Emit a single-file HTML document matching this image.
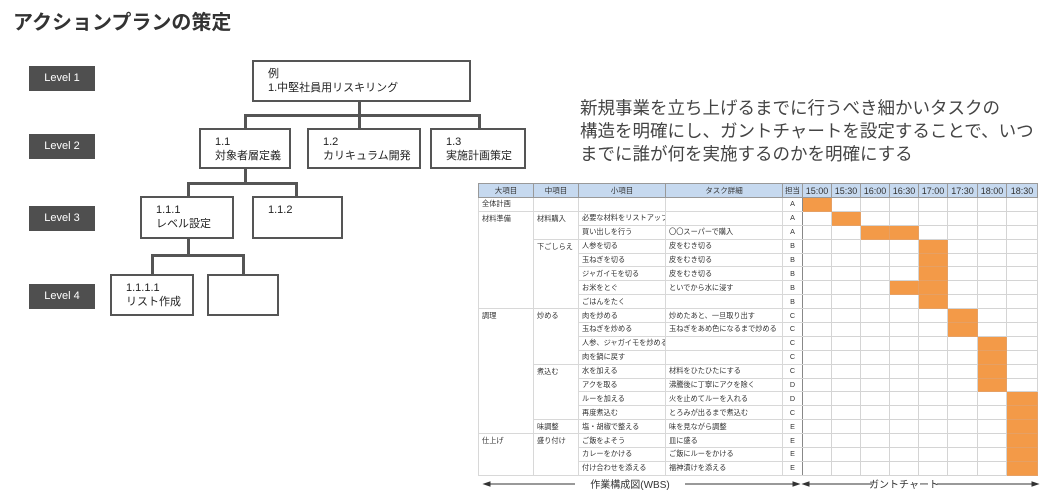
<!DOCTYPE html>
<html><head><meta charset="utf-8"><style>
body{margin:0;width:1043px;height:497px;background:#fff;position:relative;overflow:hidden;font-family:"Liberation Sans","Noto Sans CJK JP",sans-serif;color:#333}
.a{position:absolute}
.lv{position:absolute;left:29px;width:66px;height:25px;background:#4f4f4f;color:#fff;font-size:11px;line-height:25px;text-align:center}
.bx{position:absolute;border:2.5px solid #555;box-sizing:border-box;background:#fff;font-size:11px;line-height:14px;padding:5px 0 0 14px;color:#222}
.ln{position:absolute;background:#555}
table{position:absolute;left:478px;top:183px;width:559px;border-collapse:collapse;table-layout:fixed;font-size:7.2px;color:#333;border:1px solid #888}
td{border:1px solid #d8d8d8;height:13.9px;padding:0 0 0 3px;white-space:nowrap;overflow:hidden;line-height:12px;box-sizing:border-box}
th{background:#c6d9ef;border:1px solid #999;height:14px;font-weight:normal;font-size:7.5px;padding:0;box-sizing:border-box}
th.t{font-size:9px}
td.v{vertical-align:top;padding-top:1px}
td.c{text-align:center;padding:0;border-right:1px solid #888}
td.g{padding:0;border-color:#d4d4d4}
td.o{background:#f39a48;border-color:#e6a064}
</style></head><body>
<div class="a" style="left:13px;top:6px;font-size:20px;font-weight:bold;color:#333">アクションプランの策定</div>
<div class="lv" style="top:66px">Level 1</div>
<div class="lv" style="top:134px">Level 2</div>
<div class="lv" style="top:206px">Level 3</div>
<div class="lv" style="top:284px">Level 4</div>

<div class="ln" style="left:358px;top:101px;width:2.5px;height:15px"></div>
<div class="ln" style="left:244px;top:114px;width:237px;height:2.5px"></div>
<div class="ln" style="left:244px;top:114px;width:2.5px;height:15px"></div>
<div class="ln" style="left:358px;top:114px;width:2.5px;height:15px"></div>
<div class="ln" style="left:478px;top:114px;width:2.5px;height:15px"></div>
<div class="bx" style="left:252px;top:60px;width:219px;height:42px">例<br>1.中堅社員用リスキリング</div>
<div class="bx" style="left:199px;top:128px;width:92px;height:41px">1.1<br>対象者層定義</div>
<div class="bx" style="left:307px;top:128px;width:114px;height:41px">1.2<br>カリキュラム開発</div>
<div class="bx" style="left:430px;top:128px;width:96px;height:41px">1.3<br>実施計画策定</div>

<div class="ln" style="left:244px;top:168px;width:2.5px;height:16px"></div>
<div class="ln" style="left:187px;top:182px;width:111px;height:2.5px"></div>
<div class="ln" style="left:187px;top:182px;width:2.5px;height:15px"></div>
<div class="ln" style="left:295px;top:182px;width:2.5px;height:15px"></div>
<div class="bx" style="left:140px;top:196px;width:94px;height:43px">1.1.1<br>レベル設定</div>
<div class="bx" style="left:252px;top:196px;width:91px;height:43px">1.1.2</div>

<div class="ln" style="left:187px;top:238px;width:2.5px;height:18px"></div>
<div class="ln" style="left:151px;top:254px;width:93px;height:2.5px"></div>
<div class="ln" style="left:151px;top:254px;width:2.5px;height:21px"></div>
<div class="ln" style="left:242px;top:254px;width:2.5px;height:21px"></div>
<div class="bx" style="left:110px;top:274px;width:84px;height:42px">1.1.1.1<br>リスト作成</div>
<div class="bx" style="left:207px;top:274px;width:72px;height:42px"></div>

<div class="a" style="left:580px;top:97px;font-size:17.5px;line-height:23px;color:#444;white-space:nowrap">新規事業を立ち上げるまでに行うべき細かいタスクの<br>構造を明確にし、ガントチャートを設定することで、いつ<br>までに誰が何を実施するのかを明確にする</div>

<table>
<colgroup><col style="width:55px"><col style="width:45px"><col style="width:87px"><col style="width:117px"><col style="width:20px"><col style="width:29px"><col style="width:29px"><col style="width:29px"><col style="width:29px"><col style="width:29px"><col style="width:30px"><col style="width:29px"><col style="width:31px"></colgroup>
<tr><th>大項目</th><th>中項目</th><th>小項目</th><th>タスク詳細</th><th>担当</th><th class="t">15:00</th><th class="t">15:30</th><th class="t">16:00</th><th class="t">16:30</th><th class="t">17:00</th><th class="t">17:30</th><th class="t">18:00</th><th class="t">18:30</th></tr>
<tr><td>全体計画</td><td></td><td></td><td></td><td class="c">A</td><td class="g o"></td><td class="g"></td><td class="g"></td><td class="g"></td><td class="g"></td><td class="g"></td><td class="g"></td><td class="g"></td></tr>
<tr><td class="v" rowspan="7">材料準備</td><td class="v" rowspan="2">材料購入</td><td>必要な材料をリストアップ</td><td></td><td class="c">A</td><td class="g"></td><td class="g o"></td><td class="g"></td><td class="g"></td><td class="g"></td><td class="g"></td><td class="g"></td><td class="g"></td></tr>
<tr><td>買い出しを行う</td><td>〇〇スーパーで購入</td><td class="c">A</td><td class="g"></td><td class="g"></td><td class="g o"></td><td class="g o"></td><td class="g"></td><td class="g"></td><td class="g"></td><td class="g"></td></tr>
<tr><td class="v" rowspan="5">下ごしらえ</td><td>人参を切る</td><td>皮をむき切る</td><td class="c">B</td><td class="g"></td><td class="g"></td><td class="g"></td><td class="g"></td><td class="g o"></td><td class="g"></td><td class="g"></td><td class="g"></td></tr>
<tr><td>玉ねぎを切る</td><td>皮をむき切る</td><td class="c">B</td><td class="g"></td><td class="g"></td><td class="g"></td><td class="g"></td><td class="g o"></td><td class="g"></td><td class="g"></td><td class="g"></td></tr>
<tr><td>ジャガイモを切る</td><td>皮をむき切る</td><td class="c">B</td><td class="g"></td><td class="g"></td><td class="g"></td><td class="g"></td><td class="g o"></td><td class="g"></td><td class="g"></td><td class="g"></td></tr>
<tr><td>お米をとぐ</td><td>といでから水に浸す</td><td class="c">B</td><td class="g"></td><td class="g"></td><td class="g"></td><td class="g o"></td><td class="g o"></td><td class="g"></td><td class="g"></td><td class="g"></td></tr>
<tr><td>ごはんをたく</td><td></td><td class="c">B</td><td class="g"></td><td class="g"></td><td class="g"></td><td class="g"></td><td class="g o"></td><td class="g"></td><td class="g"></td><td class="g"></td></tr>
<tr><td class="v" rowspan="9">調理</td><td class="v" rowspan="4">炒める</td><td>肉を炒める</td><td>炒めたあと、一旦取り出す</td><td class="c">C</td><td class="g"></td><td class="g"></td><td class="g"></td><td class="g"></td><td class="g"></td><td class="g o"></td><td class="g"></td><td class="g"></td></tr>
<tr><td>玉ねぎを炒める</td><td>玉ねぎをあめ色になるまで炒める</td><td class="c">C</td><td class="g"></td><td class="g"></td><td class="g"></td><td class="g"></td><td class="g"></td><td class="g o"></td><td class="g"></td><td class="g"></td></tr>
<tr><td>人参、ジャガイモを炒める</td><td></td><td class="c">C</td><td class="g"></td><td class="g"></td><td class="g"></td><td class="g"></td><td class="g"></td><td class="g"></td><td class="g o"></td><td class="g"></td></tr>
<tr><td>肉を鍋に戻す</td><td></td><td class="c">C</td><td class="g"></td><td class="g"></td><td class="g"></td><td class="g"></td><td class="g"></td><td class="g"></td><td class="g o"></td><td class="g"></td></tr>
<tr><td class="v" rowspan="4">煮込む</td><td>水を加える</td><td>材料をひたひたにする</td><td class="c">C</td><td class="g"></td><td class="g"></td><td class="g"></td><td class="g"></td><td class="g"></td><td class="g"></td><td class="g o"></td><td class="g"></td></tr>
<tr><td>アクを取る</td><td>沸騰後に丁寧にアクを除く</td><td class="c">D</td><td class="g"></td><td class="g"></td><td class="g"></td><td class="g"></td><td class="g"></td><td class="g"></td><td class="g o"></td><td class="g"></td></tr>
<tr><td>ルーを加える</td><td>火を止めてルーを入れる</td><td class="c">D</td><td class="g"></td><td class="g"></td><td class="g"></td><td class="g"></td><td class="g"></td><td class="g"></td><td class="g"></td><td class="g o"></td></tr>
<tr><td>再度煮込む</td><td>とろみが出るまで煮込む</td><td class="c">C</td><td class="g"></td><td class="g"></td><td class="g"></td><td class="g"></td><td class="g"></td><td class="g"></td><td class="g"></td><td class="g o"></td></tr>
<tr><td>味調整</td><td>塩・胡椒で整える</td><td>味を見ながら調整</td><td class="c">E</td><td class="g"></td><td class="g"></td><td class="g"></td><td class="g"></td><td class="g"></td><td class="g"></td><td class="g"></td><td class="g o"></td></tr>
<tr><td class="v" rowspan="3">仕上げ</td><td class="v" rowspan="3">盛り付け</td><td>ご飯をよそう</td><td>皿に盛る</td><td class="c">E</td><td class="g"></td><td class="g"></td><td class="g"></td><td class="g"></td><td class="g"></td><td class="g"></td><td class="g"></td><td class="g o"></td></tr>
<tr><td>カレーをかける</td><td>ご飯にルーをかける</td><td class="c">E</td><td class="g"></td><td class="g"></td><td class="g"></td><td class="g"></td><td class="g"></td><td class="g"></td><td class="g"></td><td class="g o"></td></tr>
<tr><td>付け合わせを添える</td><td>福神漬けを添える</td><td class="c">E</td><td class="g"></td><td class="g"></td><td class="g"></td><td class="g"></td><td class="g"></td><td class="g"></td><td class="g"></td><td class="g o"></td></tr>
</table>

<svg class="a" style="left:0;top:0" width="1043" height="497">
<g stroke="#333" stroke-width="1" fill="#333">
<line x1="488" y1="484" x2="575" y2="484"/><line x1="685" y1="484" x2="795" y2="484"/>
<polygon points="484,484 490,482 490,486"/><polygon points="799,484 793,482 793,486"/>
<line x1="807" y1="484" x2="872" y2="484"/><line x1="937" y1="484" x2="1034" y2="484"/>
<polygon points="803,484 809,482 809,486"/><polygon points="1038,484 1032,482 1032,486"/>
</g>
<text x="630" y="488" font-size="10" text-anchor="middle" fill="#333" font-family="Liberation Sans, Noto Sans CJK JP, sans-serif">作業構成図(WBS)</text>
<text x="904" y="488" font-size="10" text-anchor="middle" fill="#333" font-family="Liberation Sans, Noto Sans CJK JP, sans-serif">ガントチャート</text>
</svg>
</body></html>
